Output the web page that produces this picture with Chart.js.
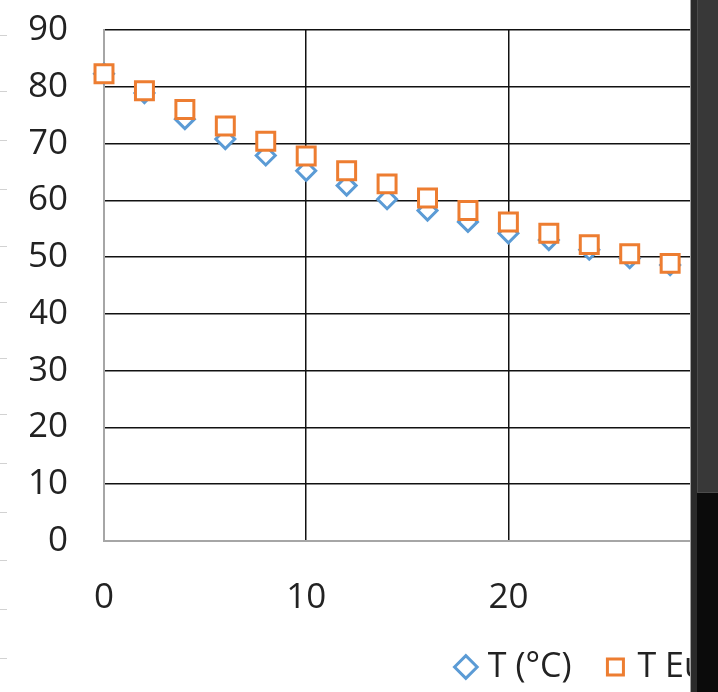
<!DOCTYPE html>
<html>
<head>
<meta charset="utf-8">
<script src="https://cdn.jsdelivr.net/npm/chart.js@4.4.1/dist/chart.umd.min.js"></script>
<style>
html,body{margin:0;padding:0;background:#fff;overflow:hidden;width:718px;height:692px;}
#wrap{position:relative;width:718px;height:692px;overflow:hidden;background:#fff;}
#c{position:absolute;left:0;top:0;}
.rt{position:absolute;left:0;width:7px;height:1px;background:#d2d2d2;}
.ov{position:absolute;}
</style>
</head>
<body>
<div id="wrap">
  <canvas id="c" width="1252" height="692"></canvas>
  <div id="rows"></div>
  <div class="ov" style="left:690px;top:0;width:1px;height:692px;background:#a0a0a0;"></div>
  <div class="ov" style="left:691px;top:0;width:6px;height:692px;background:#2b2b2b;"></div>
  <div class="ov" style="left:697px;top:0;width:21px;height:493px;background:#383838;border-left:1px solid #4c4c4c;border-bottom:1px solid #4c4c4c;box-sizing:border-box;"></div>
  <div class="ov" style="left:697px;top:493px;width:21px;height:199px;background:#0b0b0b;"></div>
</div>
<script>
// ---- data ----
const timeValues   = [0, 2, 4, 6, 8, 10, 12, 14, 16, 18, 20, 22, 24, 26, 28];
const tempValues   = [82.3, 78.9, 74.3, 70.8, 67.9, 65.2, 62.6, 60.2, 58.2, 56.2, 54.2, 53.0, 51.3, 49.8, 48.6];
const eulerValues  = [82.3, 79.3, 76.0, 73.1, 70.4, 67.8, 65.2, 62.9, 60.4, 58.2, 56.2, 54.2, 52.2, 50.6, 48.9];
const seriesLabels = ['T (°C)', 'T Euler (°C)'];
const yTickValues  = [0, 10, 20, 30, 40, 50, 60, 70, 80, 90];
const xTickValues  = [0, 10, 20, 30, 40, 50];

// spreadsheet row marks on the far left
const rowMarks = [35, 91, 140, 189, 246, 302, 358, 414, 463, 512, 560, 609, 658];
const rowsEl = document.getElementById('rows');
rowMarks.forEach(y => { const d = document.createElement('div'); d.className = 'rt'; d.style.top = y + 'px'; rowsEl.appendChild(d); });

const toPoints = (xs, ys) => xs.map((x, i) => ({x: x, y: ys[i]}));

const FONT = "'Open Sans', 'DejaVu Sans', sans-serif";
const gridColor = (ctx) => (ctx.tick && ctx.tick.value === 0) ? 'rgba(0,0,0,0)' : '#111';

new Chart(document.getElementById('c'), {
  type: 'scatter',
  data: {
    datasets: [
      {
        label: seriesLabels[0],
        data: toPoints(timeValues, tempValues),
        pointStyle: 'rectRot',
        pointRadius: 9.5,
        pointHoverRadius: 9.5,
        borderColor: '#5B9BD5',
        backgroundColor: '#ffffff',
        borderWidth: 3,
        pointBorderWidth: 3,
        showLine: false,
        clip: false,
        order: 1
      },
      {
        label: seriesLabels[1],
        data: toPoints(timeValues, eulerValues),
        pointStyle: 'rect',
        pointRadius: 12.7,
        pointHoverRadius: 12.7,
        borderColor: '#ED7D31',
        backgroundColor: '#ffffff',
        borderWidth: 3,
        pointBorderWidth: 3,
        showLine: false,
        clip: false,
        order: 0
      }
    ]
  },
  options: {
    responsive: false,
    animation: false,
    layout: { padding: { left: 30, right: 10, top: 30, bottom: -2 } },
    plugins: {
      tooltip: { enabled: false },
      legend: {
        position: 'bottom',
        labels: {
          usePointStyle: true,
          boxWidth: 10,
          boxHeight: 16,
          padding: 39,
          color: '#222',
          font: { family: FONT, size: 34 },
          sort: (a, b) => a.datasetIndex - b.datasetIndex
        }
      }
    },
    scales: {
      x: {
        type: 'linear',
        min: 0,
        max: 56,
        afterBuildTicks: (axis) => { axis.ticks = xTickValues.map(v => ({value: v})); },
        afterFit: (axis) => { axis.height = 70; axis.paddingLeft = 0; axis.paddingRight = 0; },
        ticks: { color: '#222', font: { family: FONT, size: 35 }, padding: 36, maxRotation: 0 },
        grid: { color: gridColor, lineWidth: 1.5, drawTicks: false },
        border: { color: '#a6a6a6', width: 2 }
      },
      y: {
        min: 0,
        max: 90,
        afterBuildTicks: (axis) => { axis.ticks = yTickValues.map(v => ({value: v})); },
        afterFit: (axis) => { axis.width = 74; axis.paddingTop = 0; axis.paddingBottom = 0; },
        ticks: { color: '#222', font: { family: FONT, size: 35 }, padding: 36 },
        grid: { color: gridColor, lineWidth: 1.5, drawTicks: false },
        border: { color: '#a6a6a6', width: 2 }
      }
    }
  }
});
</script>
</body>
</html>
